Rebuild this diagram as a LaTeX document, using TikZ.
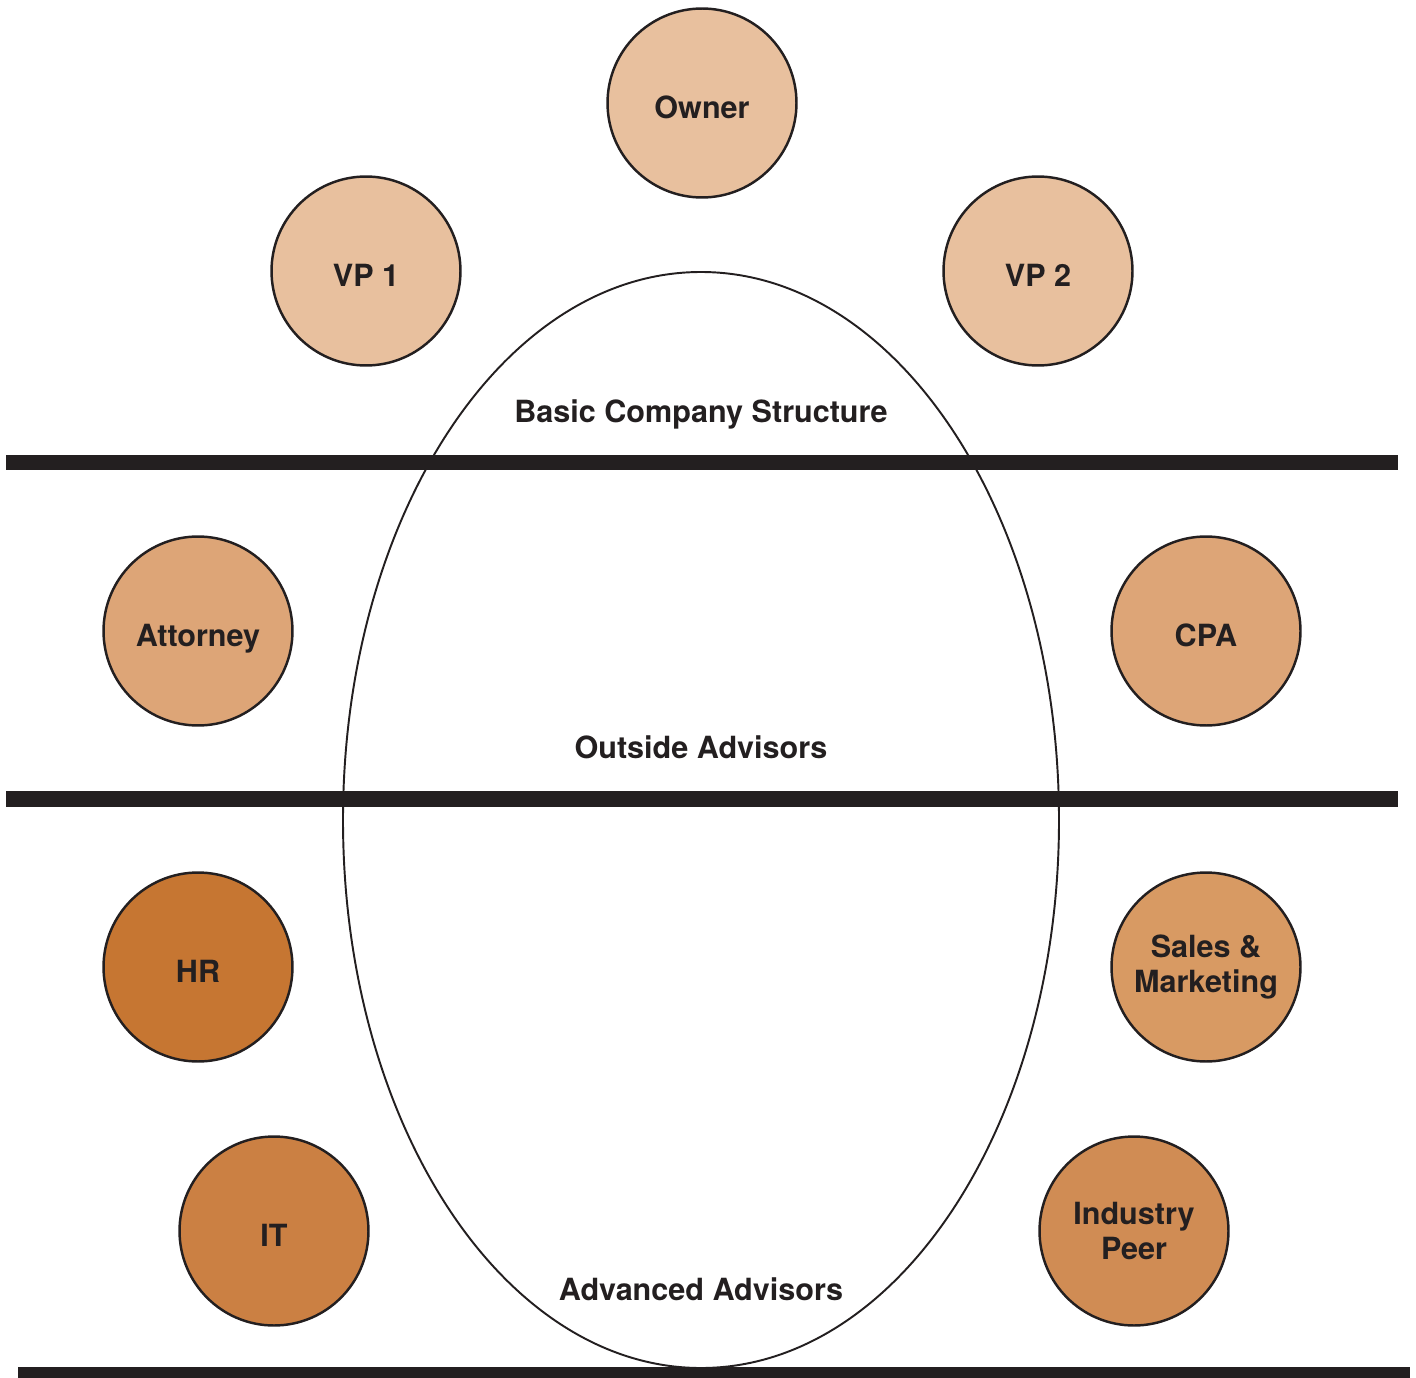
\documentclass[tikz,border=0pt]{standalone}
\usepackage{fontspec}
\setmainfont{TeX Gyre Heros}
\usepackage{tikz}
\usetikzlibrary{positioning}
\definecolor{inkblack}{HTML}{231F20}
\definecolor{peachlight}{HTML}{E8C09E}
\definecolor{peachmid}{HTML}{DDA577}
\definecolor{orangesales}{HTML}{D89A63}
\definecolor{orangepeer}{HTML}{D08C54}
\definecolor{orangeit}{HTML}{CB8043}
\definecolor{orangehr}{HTML}{C67632}

\tikzset{
  member/.style={circle,draw=inkblack,line width=1.4pt,minimum size=3.78cm,inner sep=0pt,
    align=center,text=inkblack,font=\bfseries\fontsize{17.4}{20}\selectfont},
  % single word labels sit a bit below the middle
  oneline/.style={text height=18pt,text depth=0pt},
  tierlabel/.style={anchor=base,text=inkblack,inner sep=0pt,font=\bfseries\fontsize{17.4}{20}\selectfont},
  divider/.style={fill=inkblack}
}

\begin{document}
\begin{tikzpicture}[x=0.02cm,y=-0.02cm]
  \useasboundingbox (0,0) rectangle (1416,1378);
  % tier dividers
  \fill[divider] (6,455) rectangle (1398,470);
  \fill[divider] (6,791) rectangle (1398,807);
  \fill[divider] (18,1367) rectangle (1410,1383);
  % the table
  \draw[inkblack,line width=1.1pt] (701,820) ellipse [x radius=358,y radius=548];
  % basic company structure
  \node[member,oneline,fill=peachlight] (owner) at (702,103) {Owner};
  \node[member,oneline,fill=peachlight] (vp1) at (366,271) {VP 1};
  \node[member,oneline,fill=peachlight] (vp2) at (1038,271) {VP 2};
  % outside advisors
  \node[member,oneline,fill=peachmid] (attorney) at (198,631) {Attorney};
  \node[member,oneline,fill=peachmid] (cpa) at (1206,631) {CPA};
  % advanced advisors
  \node[member,oneline,fill=orangehr] (hr) at (198,967) {HR};
  \node[member,fill=orangesales] (sales) at (1206,967) {Sales \&\\Marketing};
  \node[member,oneline,fill=orangeit] (it) at (274,1231) {IT};
  \node[member,fill=orangepeer] (peer) at (1134,1231) {Industry\\Peer};
  % tier names
  \node[tierlabel] (basic) at (701,422) {Basic Company Structure};
  \node[tierlabel] (outside) at (701,758) {Outside Advisors};
  \node[tierlabel] (advanced) at (701,1300) {Advanced Advisors};
\end{tikzpicture}
\end{document}
